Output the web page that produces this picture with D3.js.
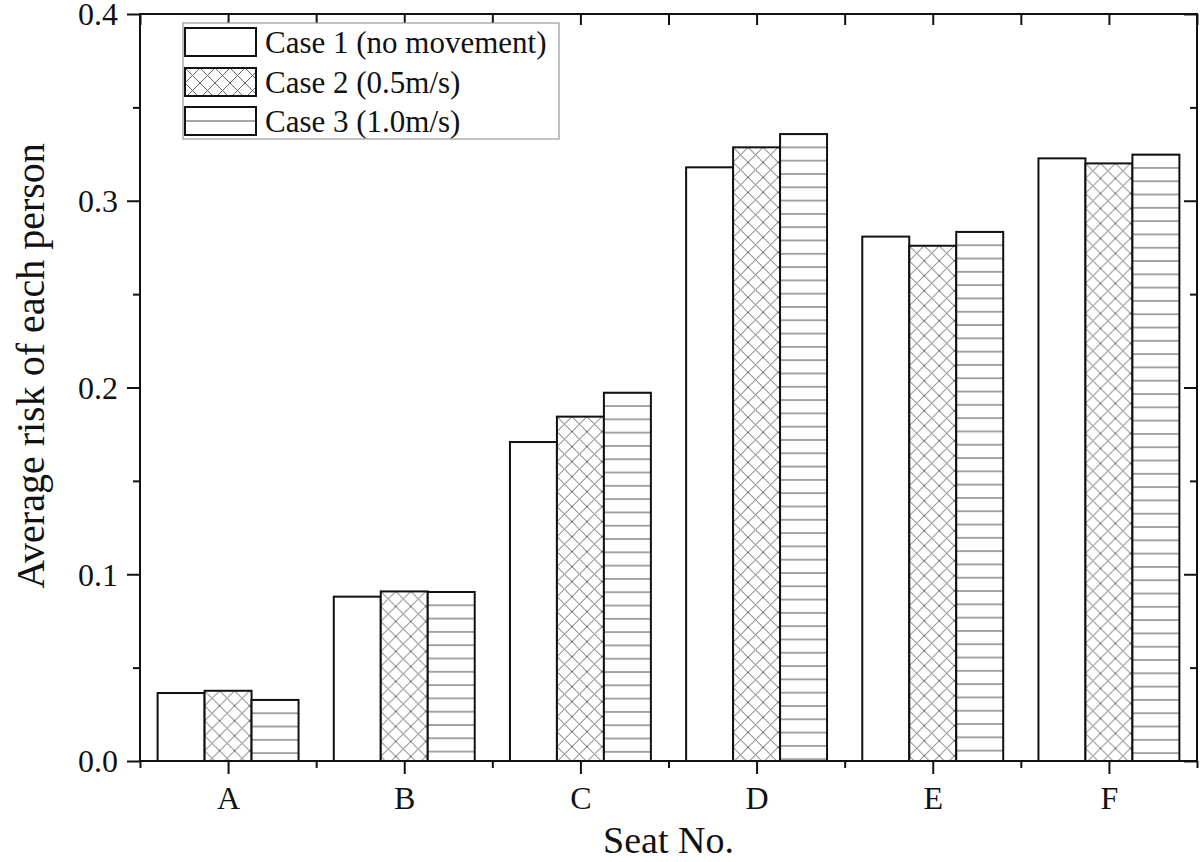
<!DOCTYPE html>
<meta charset="utf-8">
<style>
html, body {
  margin: 0;
  background: #fff;
}

.chart text {
  font-family: "Liberation Serif", "Times New Roman", serif;
  fill: #111;
}

.chart .axis path {
  display: none;
}

.chart .axis line {
  stroke: #111;
  stroke-width: 2;
}
</style>
<body>
<svg class="chart" width="1200" height="862"></svg>

<script src="https://d3js.org/d3.v7.min.js"></script>
<script type="text/javascript">
"use strict";

var categories = ["A", "B", "C", "D", "E", "F"];
var seriesNames = ["Case 1 (no movement)", "Case 2 (0.5m/s)", "Case 3 (1.0m/s)"];
var case1 = [0.0364, 0.0880, 0.1708, 0.3179, 0.2808, 0.3227];
var case2 = [0.0376, 0.0908, 0.1844, 0.3286, 0.2759, 0.3200];
var case3 = [0.0327, 0.0905, 0.1972, 0.3357, 0.2833, 0.3247];
var yTicks = [0, 0.1, 0.2, 0.3, 0.4];
var yMinorTicks = [0.05, 0.15, 0.25, 0.35];

var series = [case1, case2, case3];
var fills = ["none", "cross", "hlines"];

var plotLeft = 140, plotRight = 1197, plotTop = 14, plotBottom = 761,
  crossSize = 15,
  lineGap = 13.3;

var svg = d3.select(".chart");
var defs = svg.append("defs");

var x = d3.scaleBand()
  .domain(categories)
  .range([plotLeft, plotRight])
  .paddingInner(0.2)
  .paddingOuter(0.1);

var xSub = d3.scaleBand()
  .domain(d3.range(series.length))
  .range([0, x.bandwidth()]);

// linear copy of the category axis, for major + minor ticks
var xTick = d3.scaleLinear()
  .domain([0.5, categories.length + 0.5])
  .range([plotLeft, plotRight]);

var y = d3.scaleLinear()
  .domain([0, 0.4])
  .range([plotBottom, plotTop]);

function makePattern(id, kind, px, py, gapOverride) {
  if (kind === "cross") {
    var p = defs.append("pattern")
      .attr("id", id)
      .attr("patternUnits", "userSpaceOnUse")
      .attr("x", px).attr("y", py)
      .attr("width", crossSize).attr("height", crossSize);
    p.append("rect").attr("width", crossSize).attr("height", crossSize).attr("fill", "#fff");
    p.append("path")
      .attr("d", "M-1,-1L" + (crossSize + 1) + "," + (crossSize + 1) +
        "M" + (crossSize + 1) + ",-1L-1," + (crossSize + 1))
      .attr("stroke", "#666")
      .attr("stroke-width", 1)
      .attr("fill", "none");
  } else {
    var gap = gapOverride || lineGap;
    var q = defs.append("pattern")
      .attr("id", id)
      .attr("patternUnits", "userSpaceOnUse")
      .attr("x", px).attr("y", py + gap / 2)
      .attr("width", 10).attr("height", gap);
    q.append("rect").attr("width", 10).attr("height", gap).attr("fill", "#fff");
    q.append("line")
      .attr("x1", 0).attr("x2", 10)
      .attr("y1", gap / 2).attr("y2", gap / 2)
      .attr("stroke", "#888")
      .attr("stroke-width", 1.5);
  }
}

// bars
var bars = [];
categories.forEach(function(c, i) {
  series.forEach(function(s, j) {
    bars.push({ cat: c, s: j, value: s[i] });
  });
});

var barG = svg.append("g");
bars.forEach(function(d, k) {
  var bx = x(d.cat) + xSub(d.s),
    by = y(d.value),
    fill = "#fff";
  if (fills[d.s] !== "none") {
    makePattern("pat" + k, fills[d.s], bx, by);
    fill = "url(#pat" + k + ")";
  }
  barG.append("rect")
    .attr("x", bx)
    .attr("y", by)
    .attr("width", xSub.bandwidth())
    .attr("height", y(0) - by)
    .attr("fill", fill)
    .attr("stroke", "#111")
    .attr("stroke-width", 2);
});

// axes
var majorX = d3.range(1, categories.length + 1);
var minorX = d3.range(0.5, categories.length + 1, 1);

svg.append("g").attr("class", "axis")
  .attr("transform", "translate(0," + plotBottom + ")")
  .call(d3.axisBottom(xTick).tickValues(majorX).tickSize(13).tickPadding(12)
    .tickFormat(function(v) { return categories[v - 1]; }))
  .selectAll("text").attr("font-size", 32).attr("dy", "0.71em");

svg.append("g").attr("class", "axis")
  .attr("transform", "translate(0," + plotBottom + ")")
  .call(d3.axisBottom(xTick).tickValues(minorX).tickSize(7).tickFormat(""));

svg.append("g").attr("class", "axis")
  .attr("transform", "translate(0," + plotTop + ")")
  .call(d3.axisBottom(xTick).tickValues(majorX.concat(minorX)).tickSize(11).tickFormat(""));

svg.append("g").attr("class", "axis")
  .attr("transform", "translate(" + plotLeft + ",0)")
  .call(d3.axisLeft(y).tickValues(yTicks).tickSize(13).tickPadding(9)
    .tickFormat(d3.format(".1f")))
  .selectAll("text").attr("font-size", 32).attr("dy", "0.34em");

svg.append("g").attr("class", "axis")
  .attr("transform", "translate(" + plotLeft + ",0)")
  .call(d3.axisLeft(y).tickValues(yMinorTicks).tickSize(7).tickFormat(""));

svg.append("g").attr("class", "axis")
  .attr("transform", "translate(" + plotRight + ",0)")
  .call(d3.axisLeft(y).tickValues(yTicks).tickSize(13).tickFormat(""));

svg.append("g").attr("class", "axis")
  .attr("transform", "translate(" + plotRight + ",0)")
  .call(d3.axisLeft(y).tickValues(yMinorTicks).tickSize(7).tickFormat(""));

// frame
svg.append("rect")
  .attr("x", plotLeft).attr("y", plotTop)
  .attr("width", plotRight - plotLeft).attr("height", plotBottom - plotTop)
  .attr("fill", "none")
  .attr("stroke", "#111")
  .attr("stroke-width", 2);

// axis titles
svg.append("text")
  .attr("x", (plotLeft + plotRight) / 2)
  .attr("y", 853)
  .attr("text-anchor", "middle")
  .attr("font-size", 38)
  .text("Seat No.");

svg.append("text")
  .attr("transform", "translate(44,366) rotate(-90)")
  .attr("text-anchor", "middle")
  .attr("font-size", 40)
  .text("Average risk of each person");

// legend
var legend = svg.append("g");
legend.append("rect")
  .attr("x", 183).attr("y", 23)
  .attr("width", 376).attr("height", 116)
  .attr("fill", "#fff")
  .attr("stroke", "#999")
  .attr("stroke-width", 1.2);

var rowY = [28, 68, 107];
seriesNames.forEach(function(name, j) {
  var fill = "#fff";
  if (fills[j] === "cross") {
    makePattern("leg" + j, "cross", 185, rowY[j]);
    fill = "url(#leg" + j + ")";
  } else if (fills[j] === "hlines") {
    makePattern("leg" + j, "hlines", 185, rowY[j], 14);
    fill = "url(#leg" + j + ")";
  }
  legend.append("rect")
    .attr("x", 185).attr("y", rowY[j])
    .attr("width", 71).attr("height", 28)
    .attr("fill", fill)
    .attr("stroke", "#111")
    .attr("stroke-width", 2);
  legend.append("text")
    .attr("x", 265).attr("y", rowY[j] + 25)
    .attr("font-size", 31)
    .text(name);
});
</script>
</body>
